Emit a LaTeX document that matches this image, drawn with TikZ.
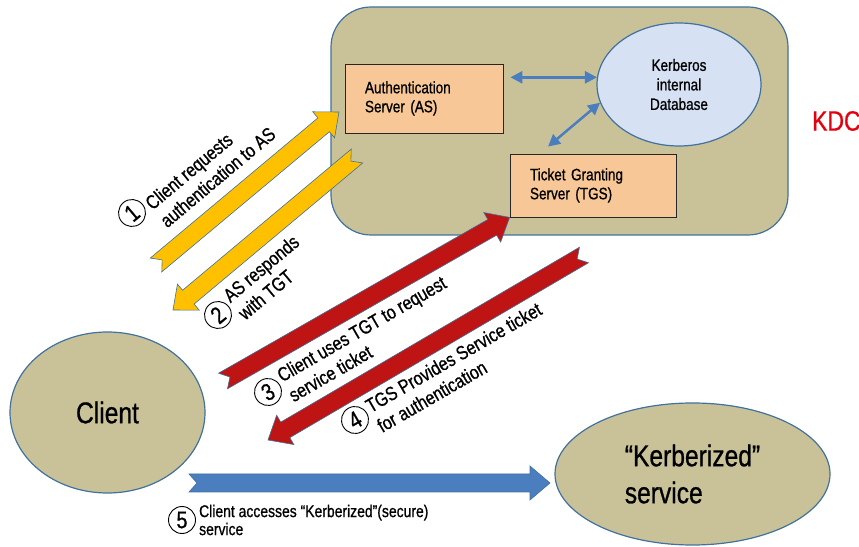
\documentclass[tikz,border=0pt]{standalone}
\usepackage{fontspec}
\setmainfont{Liberation Sans}[FakeStretch=0.82, FakeBold=0.8]
\usetikzlibrary{shapes.geometric,arrows.meta,calc,positioning}

\definecolor{kdcfill}{HTML}{C9C299}
\definecolor{serverfill}{HTML}{F8C797}
\definecolor{dbfill}{HTML}{D6E2F4}
\definecolor{edge}{HTML}{41719C}
\definecolor{linkblue}{HTML}{4A7EBE}
\definecolor{gold}{HTML}{FFC000}
\definecolor{ticketred}{HTML}{BE1414}
\definecolor{kdcred}{HTML}{E3000F}

% wide block arrow with notched tail: from, to, style
\newcommand{\fatarrow}[3]{%
	\coordinate (fa-t) at (#1);
	\coordinate (fa-h) at (#2);
	\coordinate (fa-b) at ($(fa-h)!20pt!(fa-t)$);
	\filldraw[#3] ($(fa-t)!9pt!90:(fa-h)$) -- ($(fa-b)!9pt!90:(fa-h)$)
		-- ($(fa-b)!17pt!90:(fa-h)$) -- (fa-h) -- ($(fa-b)!17pt!-90:(fa-h)$)
		-- ($(fa-b)!9pt!-90:(fa-h)$) -- ($(fa-t)!9pt!-90:(fa-h)$)
		-- ($(fa-t)!8pt!(fa-h)$) -- cycle;
}

\begin{document}
\begin{tikzpicture}[x=1pt, y=1pt,
		kdcbox/.style={draw=edge, line width=1.2pt, fill=kdcfill,
			rounded corners=40pt, minimum width=457pt, minimum height=228pt},
		server/.style={draw=black!85, line width=0.8pt, fill=serverfill,
			align=left, inner xsep=20pt, font=\fontsize{16.5}{19}\selectfont},
		store/.style={ellipse, draw=edge, line width=1.2pt, fill=dbfill,
			minimum width=164pt, minimum height=123pt, align=center,
			font=\fontsize{16.5}{19.5}\selectfont},
		party/.style={ellipse, draw=edge, line width=1.2pt, fill=kdcfill},
		link/.style={draw=linkblue, line width=2.5pt,
			{Triangle[length=12pt,width=12pt]}-{Triangle[length=12pt,width=12pt]}},
		num/.style={circle, draw, line width=0.9pt, inner sep=0pt,
			minimum size=27pt, font=\fontsize{24}{24}\selectfont},
		lbl/.style={align=left, inner xsep=3pt, font=\fontsize{19.5}{23}\selectfont},
		fat/.style={draw=edge, line width=0.6pt}]
	\useasboundingbox (0,0) rectangle (859,546);

	% key distribution centre
	\node[kdcbox] (kdc) at (559.5,425) {};
	\node[right=20pt of kdc, text=kdcred, font=\fontsize{28}{30}\selectfont] (kdclbl) {KDC};
	\node[server, text width=118pt, minimum height=69pt] (as) at (424,447.5)
		{Authentication\\Server (AS)};
	\node[server, text width=126pt, minimum height=63pt] (tgs) at (593,360.5)
		{Ticket Granting\\Server (TGS)};
	\node[store] (db) at (679,461.5) {Kerberos\\internal\\Database};
	\draw[link] ([xshift=7pt]as.east |- db.175) -- (db.175);
	\draw[link] ([xshift=-45pt,yshift=7pt]tgs.north) -- (db.193);

	% parties
	\node[party, minimum width=195pt, minimum height=161pt,
		font=\fontsize{30}{34}\selectfont] (client) at (107.5,133.5) {Client};
	\node[party, minimum width=275pt, minimum height=142pt, align=left,
		font=\fontsize{30}{37}\selectfont] (svc) at (692.5,72) {“Kerberized”\\service};

	% message flow
	\coordinate (req-s) at (156,281);
	\coordinate (req-e) at (339,434);
	\coordinate (tgt-s) at (357,390);
	\coordinate (tgt-e) at (173,236);
	\coordinate (use-s) at (223,165);
	\coordinate (use-e) at (tgs.south west);
	\coordinate (tkt-s) at (584,291);
	\coordinate (tkt-e) at (268,106);
	\coordinate (acc-s) at (189,63);
	\coordinate (acc-e) at (550,63);
	\fatarrow{req-s}{req-e}{fat, fill=gold}
	\fatarrow{tgt-s}{tgt-e}{fat, fill=gold}
	\fatarrow{use-s}{use-e}{fat, fill=ticketred}
	\fatarrow{tkt-s}{tkt-e}{fat, fill=ticketred}
	\fatarrow{acc-s}{acc-e}{fat, fill=linkblue}

	% step labels
	\node[num, rotate=40] (n1) at (132,333) {1};
	\node[lbl, rotate=40, anchor=west] (l1) at ($(n1.east)!16pt!90:(n1.center)$)
		{Client requests\\authentication to AS};
	\node[num, rotate=40] (n2) at (218,231) {2};
	\node[lbl, rotate=40, anchor=west] (l2) at ($(n2.east)!3.5pt!90:(n2.center)$)
		{AS responds\\with TGT};
	\node[num, rotate=30] (n3) at (268,154) {3};
	\node[lbl, rotate=30, anchor=west] (l3) at ($(n3.east)!3.5pt!90:(n3.center)$)
		{Client uses TGT to request\\service ticket};
	\node[num, rotate=30] (n4) at (355,126) {4};
	\node[lbl, rotate=30, anchor=west] (l4) at ($(n4.east)!6.5pt!90:(n4.center)$)
		{TGS Provides Service ticket\\for authentication};
	\node[num] (n5) at (182,26) {5};
	\node[lbl, anchor=west, font=\fontsize{17}{18}\selectfont] (l5) at (n5.east)
		{Client accesses “Kerberized”(secure)\\service};
\end{tikzpicture}
\end{document}
